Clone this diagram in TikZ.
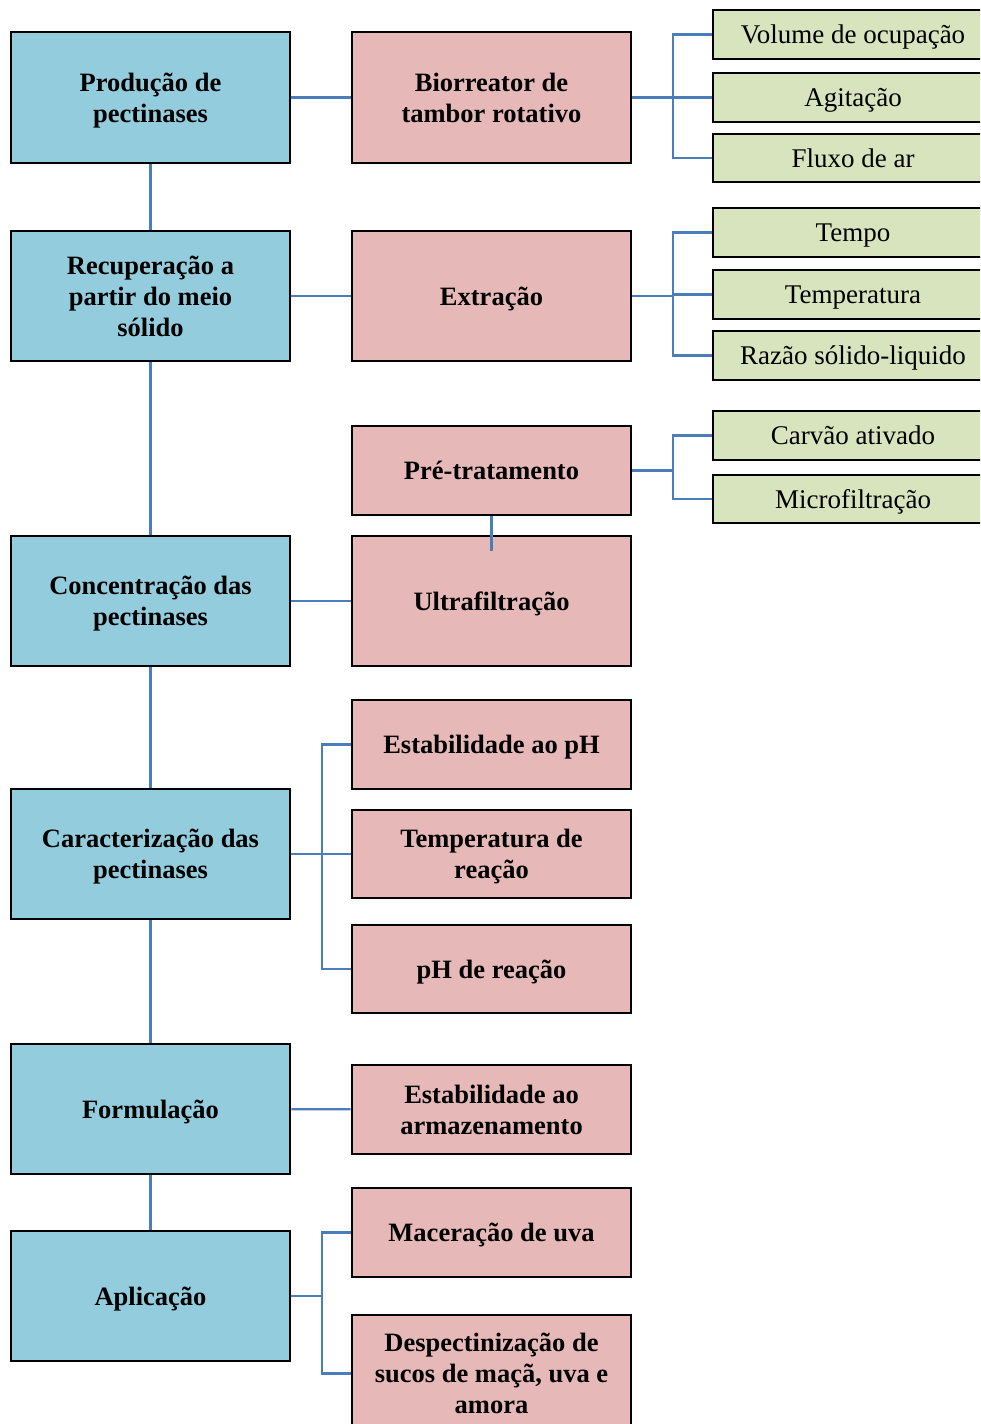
\documentclass[tikz,border=0pt]{standalone}
\usepackage{fontspec}
\setmainfont{Liberation Serif}
\definecolor{stageblue}{RGB}{147,205,221}
\definecolor{steppink}{RGB}{230,185,184}
\definecolor{paramgreen}{RGB}{215,228,189}
\definecolor{linkblue}{RGB}{74,126,187}
\begin{document}
\begin{tikzpicture}[x=1pt,y=-1pt,
  box/.style={draw=black,line width=2.6pt,rectangle,align=center,inner sep=0pt,text depth=0pt},
  stage/.style={box,fill=stageblue,minimum width=279pt,minimum height=130pt,
    font=\fontsize{26.5}{31}\selectfont\bfseries},
  stepbox/.style={box,fill=steppink,minimum width=279pt,
    font=\fontsize{26.5}{31}\selectfont\bfseries},
  param/.style={box,fill=paramgreen,minimum width=280pt,minimum height=49pt,
    font=\fontsize{27}{31}\selectfont},
  link/.style={draw=linkblue,line width=2.3pt}]
\useasboundingbox (0,0) rectangle (980,1424);
\clip (0,0) rectangle (980,1424);

% process stages
\node[stage,minimum height=131pt] (b1) at (150.5,97.5) {Produção de\\pectinases};
\node[stage] (b2) at (150.5,296) {Recuperação a\\partir do meio\\sólido};
\node[stage] (b3) at (150.5,601) {Concentração das\\pectinases};
\node[stage] (b4) at (150.5,854) {Caracterização das\\pectinases};
\node[stage] (b5) at (150.5,1109) {Formulação};
\node[stage] (b6) at (150.5,1296) {Aplicação};

% operations
\node[stepbox,minimum height=131pt] (p1) at (491.5,97.5) {Biorreator de\\tambor rotativo};
\node[stepbox,minimum height=130pt] (p2) at (491.5,296) {Extração};
\node[stepbox,minimum height=89pt] (p3) at (491.5,470.5) {Pré-tratamento};
\node[stepbox,minimum height=130pt] (p4) at (491.5,601) {Ultrafiltração};
\node[stepbox,minimum height=89pt] (p5) at (491.5,744.5) {Estabilidade ao pH};
\node[stepbox,minimum height=88pt] (p6) at (491.5,854) {Temperatura de\\reação};
\node[stepbox,minimum height=88pt] (p7) at (491.5,969) {pH de reação};
\node[stepbox,minimum height=89pt] (p8) at (491.5,1109.5) {Estabilidade ao\\armazenamento};
\node[stepbox,minimum height=89pt] (p9) at (491.5,1232.5) {Maceração de uva};
\node[stepbox,minimum height=117pt] (p10) at (491.5,1373.5) {Despectinização de\\sucos de maçã, uva e\\amora};

% parameters
\node[param] (g1) at (853,34.5) {Volume de ocupação};
\node[param] (g2) at (853,97.5) {Agitação};
\node[param,minimum height=48pt] (g3) at (853,158) {Fluxo de ar};
\node[param] (g4) at (853,232.5) {Tempo};
\node[param] (g5) at (853,294.5) {Temperatura};
\node[param] (g6) at (853,355.5) {Razão sólido-liquido};
\node[param] (g7) at (853,435.5) {Carvão ativado};
\node[param,minimum height=48pt] (g8) at (853,499) {Microfiltração};

% stage sequence
\draw[link] (b1) -- (b2);
\draw[link] (b2) -- (b3);
\draw[link] (b3) -- (b4);
\draw[link] (b4) -- (b5);
\draw[link] (b5) -- (b6);

% stages to operations
\draw[link] (b1) -- (p1);
\draw[link] (b2) -- (p2);
\draw[link] (b3) -- (p4);
\draw[link] (b5) -- (p8);
\foreach \t in {p5,p6,p7} \draw[link] (b4.east) -- +(31,0) |- (\t.west);
\foreach \t in {p9,p10} \draw[link] (b6.east) -- +(31,0) |- (\t.west);

% operations to parameters
\foreach \t in {g1,g2,g3} \draw[link] (p1.east) -- +(41,0) |- (\t.west);
\foreach \t in {g4,g5,g6} \draw[link] (p2.east) -- +(41,0) |- (\t.west);
\foreach \t in {g7,g8} \draw[link] (p3.east) -- +(41,0) |- (\t.west);

% pre-treatment feeding ultrafiltration
\coordinate (uin) at ([yshift=-16pt]p4.north);
\draw[link] (p3.south) -- (uin);
\end{tikzpicture}
\end{document}
